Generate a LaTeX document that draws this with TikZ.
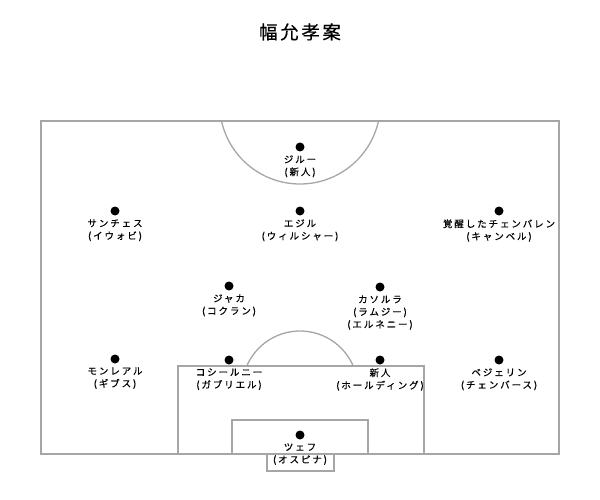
\documentclass[tikz,border=0pt]{standalone}
\usepackage{fontspec}
\newfontfamily\jp[LetterSpace=20,FakeBold=0.6]{Noto Sans CJK JP}
\newfontfamily\jptitle[LetterSpace=14,FakeBold=0.5]{Noto Sans CJK JP}
\begin{document}
\begin{tikzpicture}[x=1pt,y=-1pt,
  line/.style={draw=black!35, line width=1.3pt},
  dot/.style={circle, fill=black, inner sep=0pt, minimum size=9pt},
  lbl/.style={anchor=north, inner sep=0pt, align=center, font=\jp\fontsize{9.5}{12.5}\selectfont},
]
\useasboundingbox (0,0) rectangle (600,500);
\node[font=\jptitle\fontsize{18.5}{20}\selectfont] (title) at (300,32) {幅允孝案};
% field
\draw[line] (41,121) rectangle (559,454);
\begin{scope}
  \clip (41,121) rectangle (559,454);
  \draw[line] (300,103.6) circle[radius=80.4pt];
\end{scope}
\draw[line] (178,454) -- (178,366) -- (424,366) -- (424,454);
\begin{scope}
  \clip (178,300) rectangle (424,366);
  \draw[line] (300,389) circle[radius=58pt];
\end{scope}
\draw[line] (232,454) -- (232,420) -- (368,420) -- (368,454);
\draw[line] (267,454) -- (267,471) -- (334,471) -- (334,454);
% players
\node[dot] (p1) at (300,147) {};
\node[lbl] (l1) at ([yshift=-3.5pt]p1.south) {ジルー\\(新人)};
\node[dot] (p2) at (115,211) {};
\node[lbl] (l2) at ([yshift=-3.5pt]p2.south) {サンチェス\\(イウォビ)};
\node[dot] (p3) at (300,211) {};
\node[lbl] (l3) at ([yshift=-3.5pt]p3.south) {エジル\\(ウィルシャー)};
\node[dot] (p4) at (499,211) {};
\node[lbl] (l4) at ([yshift=-3.5pt]p4.south) {覚醒したチェンバレン\\(キャンベル)};
\node[dot] (p5) at (229,286) {};
\node[lbl] (l5) at ([yshift=-3.5pt]p5.south) {ジャカ\\(コクラン)};
\node[dot] (p6) at (380,287) {};
\node[lbl] (l6) at ([yshift=-3.5pt]p6.south) {カソルラ\\(ラムジー)\\(エルネニー)};
\node[dot] (p7) at (115,359) {};
\node[lbl] (l7) at ([yshift=-3.5pt]p7.south) {モンレアル\\(ギブス)};
\node[dot] (p8) at (229,360) {};
\node[lbl] (l8) at ([yshift=-3.5pt]p8.south) {コシールニー\\(ガブリエル)};
\node[dot] (p9) at (380,360) {};
\node[lbl] (l9) at ([yshift=-3.5pt]p9.south) {新人\\(ホールディング)};
\node[dot] (p10) at (499,360) {};
\node[lbl] (l10) at ([yshift=-3.5pt]p10.south) {ベジェリン\\(チェンバース)};
\node[dot] (p11) at (300,435) {};
\node[lbl] (l11) at ([yshift=-3.5pt]p11.south) {ツェフ\\(オスピナ)};
\end{tikzpicture}
\end{document}
